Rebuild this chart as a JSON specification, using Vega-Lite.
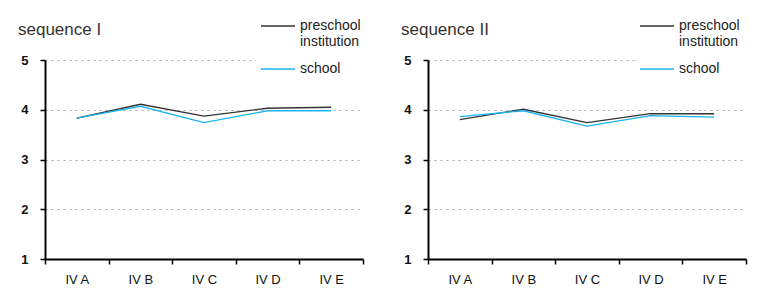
{
  "$schema": "https://vega.github.io/schema/vega-lite/v6.json",
  "padding": {"left": 18, "top": 4, "right": 5, "bottom": 5},
  "background": "white",
  "data": {"values": [
    {"seq": "I", "cls": "IV A", "group": "preschool institution", "value": 3.83},
    {"seq": "I", "cls": "IV B", "group": "preschool institution", "value": 4.11},
    {"seq": "I", "cls": "IV C", "group": "preschool institution", "value": 3.87},
    {"seq": "I", "cls": "IV D", "group": "preschool institution", "value": 4.03},
    {"seq": "I", "cls": "IV E", "group": "preschool institution", "value": 4.05},
    {"seq": "I", "cls": "IV A", "group": "school", "value": 3.83},
    {"seq": "I", "cls": "IV B", "group": "school", "value": 4.07},
    {"seq": "I", "cls": "IV C", "group": "school", "value": 3.74},
    {"seq": "I", "cls": "IV D", "group": "school", "value": 3.98},
    {"seq": "I", "cls": "IV E", "group": "school", "value": 3.98},
    {"seq": "II", "cls": "IV A", "group": "preschool institution", "value": 3.80},
    {"seq": "II", "cls": "IV B", "group": "preschool institution", "value": 4.01},
    {"seq": "II", "cls": "IV C", "group": "preschool institution", "value": 3.74},
    {"seq": "II", "cls": "IV D", "group": "preschool institution", "value": 3.92},
    {"seq": "II", "cls": "IV E", "group": "preschool institution", "value": 3.92},
    {"seq": "II", "cls": "IV A", "group": "school", "value": 3.86},
    {"seq": "II", "cls": "IV B", "group": "school", "value": 3.98},
    {"seq": "II", "cls": "IV C", "group": "school", "value": 3.67},
    {"seq": "II", "cls": "IV D", "group": "school", "value": 3.88},
    {"seq": "II", "cls": "IV E", "group": "school", "value": 3.85}
  ]},
  "config": {
    "font": "Liberation Sans",
    "view": {"stroke": null},
    "axis": {"labelFont": "Liberation Sans", "labelColor": "#111", "domainColor": "#000", "tickColor": "#000", "title": null},
    "legend": {"labelFont": "Liberation Sans"}
  },
  "resolve": {"scale": {"color": "independent"}, "legend": {"color": "independent"}},
  "spacing": 36,
  "hconcat": [
    {
      "width": 318, "height": 199,
      "title": {"text": "sequence I", "anchor": "start", "frame": "group", "dx": -27, "fontSize": 17, "fontWeight": "normal", "color": "#333", "offset": -35},
      "transform": [{"filter": "datum.seq == 'I'"}],
      "mark": {"type": "line", "strokeWidth": 1.3},
      "encoding": {
        "x": {"field": "cls", "type": "nominal", "sort": null,
          "scale": {"paddingInner": 0, "paddingOuter": 0},
          "axis": {"labelAngle": 0, "tickBand": "extent", "tickSize": 5, "tickWidth": 1.5, "domainWidth": 2, "labelFontSize": 13, "labelPadding": 9, "grid": false}},
        "y": {"field": "value", "type": "quantitative",
          "scale": {"domain": [1, 5], "nice": false, "zero": false},
          "axis": {"values": [1, 2, 3, 4, 5], "format": "d", "tickSize": 5, "tickWidth": 1.5, "domainWidth": 2, "labelFontSize": 13, "labelFontWeight": "bold", "labelPadding": 12, "grid": true, "gridDash": [2, 4], "gridColor": "#aaa", "gridWidth": 1}},
        "color": {"field": "group", "type": "nominal",
          "scale": {"domain": ["preschool institution", "school"], "range": ["#333333", "#1db4ee"]},
          "legend": {"title": null, "orient": "none", "legendX": 211, "legendY": -56, "symbolType": "stroke", "symbolSize": 1156, "symbolStrokeWidth": 1.5, "labelFontSize": 14, "labelColor": "#222", "rowPadding": 2, "fillColor": "white", "padding": 4,
            "labelExpr": "datum.label == 'preschool institution' ? ['preschool', 'institution'] : datum.label"}}
      }
    },
    {
      "width": 318, "height": 199,
      "title": {"text": "sequence II", "anchor": "start", "frame": "group", "dx": -27, "fontSize": 17, "fontWeight": "normal", "color": "#333", "offset": -35},
      "transform": [{"filter": "datum.seq == 'II'"}],
      "mark": {"type": "line", "strokeWidth": 1.3},
      "encoding": {
        "x": {"field": "cls", "type": "nominal", "sort": null,
          "scale": {"paddingInner": 0, "paddingOuter": 0},
          "axis": {"labelAngle": 0, "tickBand": "extent", "tickSize": 5, "tickWidth": 1.5, "domainWidth": 2, "labelFontSize": 13, "labelPadding": 9, "grid": false}},
        "y": {"field": "value", "type": "quantitative",
          "scale": {"domain": [1, 5], "nice": false, "zero": false},
          "axis": {"values": [1, 2, 3, 4, 5], "format": "d", "tickSize": 5, "tickWidth": 1.5, "domainWidth": 2, "labelFontSize": 13, "labelFontWeight": "bold", "labelPadding": 12, "grid": true, "gridDash": [2, 4], "gridColor": "#aaa", "gridWidth": 1}},
        "color": {"field": "group", "type": "nominal",
          "scale": {"domain": ["preschool institution", "school"], "range": ["#333333", "#1db4ee"]},
          "legend": {"title": null, "orient": "none", "legendX": 207, "legendY": -56, "symbolType": "stroke", "symbolSize": 1156, "symbolStrokeWidth": 1.5, "labelFontSize": 14, "labelColor": "#222", "rowPadding": 2, "fillColor": "white", "padding": 4,
            "labelExpr": "datum.label == 'preschool institution' ? ['preschool', 'institution'] : datum.label"}}
      }
    }
  ]
}
